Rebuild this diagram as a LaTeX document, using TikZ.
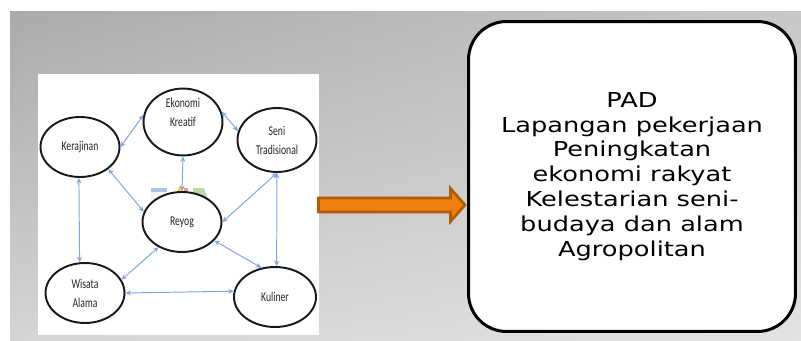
\documentclass[tikz,border=0pt]{standalone}
\usepackage{fontspec}
\usetikzlibrary{arrows.meta,shapes.geometric,fadings}
\newfontfamily\hubfont{Carlito}[FakeStretch=0.72]
\newfontfamily\padfont{DejaVu Sans}[FakeStretch=1.25]
\definecolor{linkblue}{HTML}{7EA6E0}
\definecolor{bgleft}{HTML}{ABABAB}
\definecolor{bgmid}{HTML}{D0D0D0}
\definecolor{bgright}{HTML}{C8C8C8}
\definecolor{arrowfill}{HTML}{F0800E}
\definecolor{arrowedge}{HTML}{B35A07}
\definecolor{iconblue}{HTML}{A9C2EA}
\definecolor{icongreen}{HTML}{B9D9A8}
\tikzset{
  hub/.style={ellipse, draw=black!90, line width=1.1pt, fill=white, minimum width=1.58cm, minimum height=1.2cm, inner sep=0pt, align=center, font=\hubfont\fontsize{7.65pt}{10.8pt}\selectfont, text=black!85},
  padbox/.style={draw=black, line width=1.7pt, fill=white, rounded corners=0.76cm, minimum width=6.54cm, minimum height=6.2cm, inner sep=0pt, align=center, font=\padfont\fontsize{11.68pt}{14.17pt}\selectfont, text=black},
  link/.style={{Stealth[length=1.1mm,width=1mm]}-{Stealth[length=1.1mm,width=1mm]}, draw=linkblue, line width=0.55pt},
  blockarrow/.style={fill=arrowfill, draw=arrowedge, line width=1.5pt, line join=miter},
}

\begin{document}
\begin{tikzpicture}[x=0.02cm, y=-0.02cm]
    \useasboundingbox (0,0) rectangle (801,341);
    % slide background
    \fill[white] (0,0) rectangle (801,341);
    \shade[left color=bgleft, middle color=bgmid, right color=bgright] (10,12) rectangle (801,341);
    \fill[white, fill opacity=0.5, path fading=north] (10,12) rectangle (801,341);
    % pasted picture
    \fill[white] (38,74) rectangle (319,335);
    \fill[blue!5] (151,188) rectangle (167,200);
    \fill[iconblue] (151,188) rectangle (167,192);
    \fill[yellow!60!orange!80!white] (176,194) -- (180,185) -- (184,194) -- cycle;
    \fill[red!45] (184,188) rectangle (188,194);
    \fill[icongreen] (193,188) -- (204,188) -- (208,199) -- (193,199) -- cycle;
    \node[hub] (eko) at (183,122) {Ekonomi\\Kreatif\\\mbox{}};
    \node[hub] (kera) at (80,147) {Kerajinan};
    \node[hub, minimum height=1.28cm] (seni) at (277,140) {Seni\\Tradisional};
    \node[hub] (reyog) at (182,222) {Reyog};
    \node[hub] (wis) at (85,293) {Wisata\\Alama};
    \node[hub, minimum width=1.64cm] (kul) at (275,297) {Kuliner};
    \draw[link] (kera.east) -- (eko.170);
    \draw[link] (eko.15) -- (seni.167);
    \draw[link] (eko.south) -- (reyog.north);
    \draw[link] (kera.-38) -- (reyog.165);
    \draw[link] (kera.-92) -- (wis.100);
    \draw[link] (seni.south) -- (reyog.east);
    \draw[link] (seni.south) -- (kul.87);
    \draw[link] (reyog.-30) -- (kul.115);
    \draw[link] (reyog.227) -- (wis.20);
    \draw[link] (wis.east) -- (kul.172);
    % big arrow and result box
    \draw[blockarrow] (318.5,198) -- (450.5,198) -- (450.5,188.5) -- (465,205) -- (450.5,221.5) -- (450.5,212) -- (318.5,212) -- cycle;
    \node[padbox] (pad) at (632,176.5) {PAD\\Lapangan pekerjaan\\Peningkatan\\ekonomi rakyat\\Kelestarian seni-\\budaya dan alam\\Agropolitan};
  \end{tikzpicture}
\end{document}
